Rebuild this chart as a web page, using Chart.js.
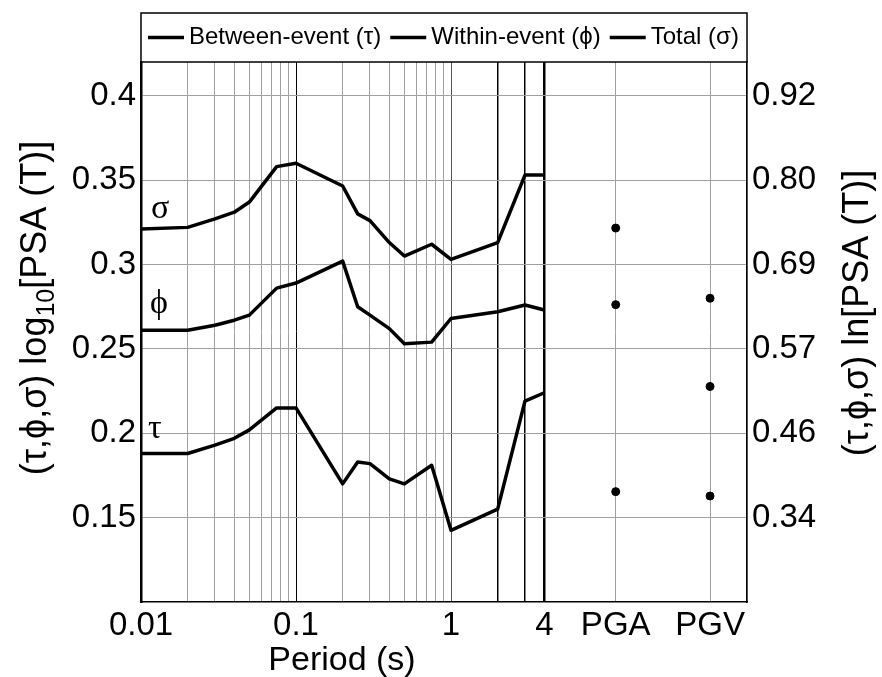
<!DOCTYPE html>
<html>
<head>
<meta charset="utf-8">
<script src="https://cdn.jsdelivr.net/npm/chart.js@4.4.1/dist/chart.umd.min.js"></script>
<style>
  html, body { margin: 0; padding: 0; background: #fff; }
</style>
</head>
<body>
<canvas id="canvas-1" width="882" height="677"></canvas>
<script>
// periods (s) and standard deviations in log10 units
const periods = [0.01, 0.02, 0.03, 0.04, 0.05, 0.075, 0.1, 0.2, 0.25, 0.3, 0.4, 0.5, 0.75, 1, 2, 3, 4];
const tau   = [0.188, 0.188, 0.193, 0.197, 0.202, 0.215, 0.215, 0.170, 0.183, 0.182, 0.173, 0.170, 0.181, 0.1425, 0.155, 0.219, 0.224];
const phi   = [0.261, 0.261, 0.264, 0.267, 0.270, 0.286, 0.289, 0.302, 0.275, 0.270, 0.262, 0.253, 0.254, 0.268, 0.272, 0.276, 0.273];
const sigma = [0.321, 0.322, 0.327, 0.331, 0.337, 0.358, 0.360, 0.3465, 0.330, 0.326, 0.313, 0.305, 0.312, 0.303, 0.313, 0.353, 0.353];

// PGA / PGV values
const pgNames = ['PGA', 'PGV'];
const pgTau   = [0.1654, 0.1628];
const pgPhi   = [0.2762, 0.2277];
const pgSigma = [0.3216, 0.2800];

// tick labels
const yTicks = [0.15, 0.2, 0.25, 0.3, 0.35, 0.4];
const yTickLabels = ['0.15', '0.2', '0.25', '0.3', '0.35', '0.4'];
const lnTickLabels = ['0.34', '0.46', '0.57', '0.69', '0.80', '0.92'];
const xMajor = [0.01, 0.1, 1, 4];
const xMajorLabels = ['0.01', '0.1', '1', '4'];

// where PGA and PGV sit on the period axis (past 4 s)
const pgX = [11.55, 46.9];
const xMax = 81.2;

const font = 'Liberation Sans, Arial, sans-serif';

// gridline positions on the log axis
const xGrid = [];
const xGridLabels = [];
[0.01, 0.1, 1].forEach(function (d) {
    for (let k = 1; k <= 9; k++) {
        const v = +(d * k).toPrecision(3);
        if (v > 4) break;
        xGrid.push(v);
        const m = xMajor.indexOf(v);
        xGridLabels.push(m >= 0 ? xMajorLabels[m] : '');
    }
});
pgX.forEach(function (v, i) { xGrid.push(v); xGridLabels.push(pgNames[i]); });
xGrid.push(xMax); xGridLabels.push('');

function xy(xs, ys) {
    return xs.map(function (x, i) { return { x: x, y: ys[i] }; });
}

function lineSet(label, ys) {
    return {
        label: label,
        data: xy(periods, ys),
        borderColor: '#000',
        borderWidth: 3.5,
        pointRadius: 0,
        tension: 0,
        borderJoinStyle: 'round',
        inLegend: true
    };
}

function dotSet(label, ys) {
    return {
        label: label,
        data: xy(pgX, ys),
        showLine: false,
        pointRadius: 4,
        pointBackgroundColor: '#000',
        pointBorderColor: '#000',
        borderColor: '#000'
    };
}

function gridColor(v) {
    if (v === 0.1 || v === 2 || v === 3 || v === 4) return '#000';
    if (v === 1) return '#555';
    return '#a0a0a0';
}
function gridWidth(v) {
    if (v === 4) return 2.5;
    if (v === 2 || v === 3) return 1.5;
    return 1;
}

const decor = {
    id: 'decor',
    afterDraw(chart) {
        const ctx = chart.ctx;
        const a = chart.chartArea;
        ctx.save();

        // legend box
        const top = 13;
        ctx.strokeStyle = '#000';
        ctx.lineWidth = 1.5;
        ctx.strokeRect(a.left, top, a.right - a.left, a.top - top);
        ctx.font = '24px ' + font;
        ctx.fillStyle = '#000';
        ctx.textBaseline = 'middle';
        const ly = (top + a.top) / 2;
        let lx = a.left + 7;
        chart.data.datasets.filter(d => d.inLegend).forEach(function (d) {
            ctx.lineWidth = 3.5;
            ctx.beginPath();
            ctx.moveTo(lx, ly);
            ctx.lineTo(lx + 36, ly);
            ctx.stroke();
            lx += 41;
            ctx.fillText(d.label, lx, ly);
            lx += ctx.measureText(d.label).width + 9;
        });

        // labels next to the curves
        ctx.font = '34px Liberation Serif, Times New Roman, serif';
        ctx.textBaseline = 'alphabetic';
        ctx.fillText('σ', 151, 218);
        ctx.fillText('ϕ', 150, 313);
        ctx.fillText('τ', 148, 438);

        // x title
        ctx.font = '34px ' + font;
        ctx.textAlign = 'center';
        ctx.fillText('Period (s)', 342, 670);

        // left title with subscript
        ctx.save();
        ctx.translate(46, 308);
        ctx.rotate(-Math.PI / 2);
        ctx.textAlign = 'left';
        const parts = [['(τ,ϕ,σ) log', 36, 0], ['10', 25, 8], ['[PSA (T)]', 36, 0]];
        let w = 0;
        parts.forEach(function (p) { ctx.font = p[1] + 'px ' + font; w += ctx.measureText(p[0]).width; });
        let px = -w / 2;
        parts.forEach(function (p) {
            ctx.font = p[1] + 'px ' + font;
            ctx.fillText(p[0], px, p[2]);
            px += ctx.measureText(p[0]).width;
        });
        ctx.restore();

        // right title
        ctx.save();
        ctx.translate(868, 313);
        ctx.rotate(-Math.PI / 2);
        ctx.font = '36px ' + font;
        ctx.textAlign = 'center';
        ctx.fillText('(τ,ϕ,σ) ln[PSA (T)]', 0, 0);
        ctx.restore();

        ctx.restore();
    }
};

const ctx = document.getElementById('canvas-1').getContext('2d');

const chart = new Chart(ctx, {
    type: 'line',
    data: {
        datasets: [
            lineSet('Between-event (τ)', tau),
            lineSet('Within-event (ϕ)', phi),
            lineSet('Total (σ)', sigma),
            dotSet('τ PGA/PGV', pgTau),
            dotSet('ϕ PGA/PGV', pgPhi),
            dotSet('σ PGA/PGV', pgSigma)
        ]
    },
    options: {
        responsive: false,
        animation: false,
        devicePixelRatio: 1,
        layout: { padding: { top: 62, left: 0, right: 0, bottom: 0 } },
        plugins: {
            legend: { display: false },
            tooltip: { enabled: false }
        },
        scales: {
            x: {
                type: 'logarithmic',
                min: 0.01,
                max: xMax,
                bounds: 'data',
                afterBuildTicks: function (scale) {
                    scale.ticks = xGrid.map(v => ({ value: v }));
                },
                afterFit: function (scale) { scale.height = 75; },
                ticks: {
                    autoSkip: false,
                    maxRotation: 0,
                    padding: 4,
                    color: '#000',
                    font: { family: font, size: 33 },
                    callback: function (v, i) { return xGridLabels[i]; }
                },
                grid: {
                    drawTicks: false,
                    color: c => gridColor(c.tick ? c.tick.value : 0),
                    lineWidth: c => gridWidth(c.tick ? c.tick.value : 0)
                },
                border: { display: true, color: '#000', width: 1.5 }
            },
            y: {
                type: 'linear',
                position: 'left',
                min: 0.1,
                max: 0.42,
                afterBuildTicks: function (scale) {
                    scale.ticks = yTicks.map(v => ({ value: v }));
                },
                afterFit: function (scale) { scale.width = 141; },
                ticks: {
                    padding: 5,
                    color: '#000',
                    font: { family: font, size: 33 },
                    callback: function (v, i) { return yTickLabels[i]; }
                },
                grid: { drawTicks: false, color: '#a0a0a0', lineWidth: 1 },
                border: { display: true, color: '#000', width: 2.5 }
            },
            y2: {
                type: 'linear',
                position: 'right',
                min: 0.1,
                max: 0.42,
                afterBuildTicks: function (scale) {
                    scale.ticks = yTicks.map(v => ({ value: v }));
                },
                afterFit: function (scale) { scale.width = 135; },
                ticks: {
                    padding: 5,
                    color: '#000',
                    font: { family: font, size: 33 },
                    callback: function (v, i) { return lnTickLabels[i]; }
                },
                grid: { drawOnChartArea: false, drawTicks: false },
                border: { display: true, color: '#000', width: 1.5 }
            }
        }
    },
    plugins: [decor]
});
</script>
</body>
</html>
